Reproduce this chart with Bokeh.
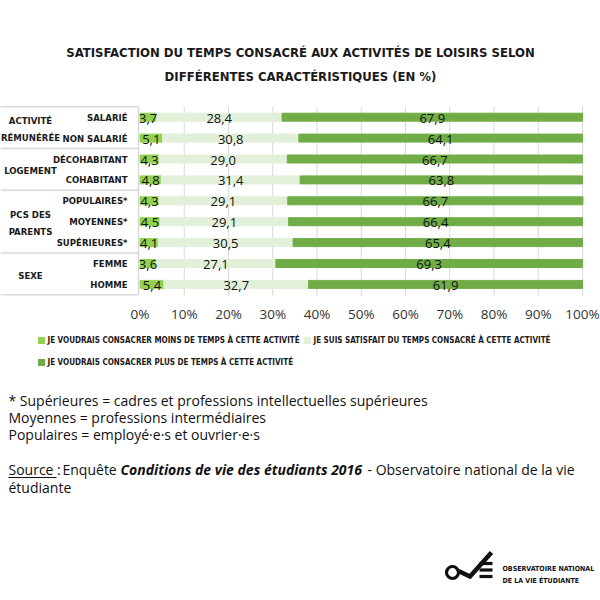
from bokeh.plotting import figure
from bokeh.models import Range1d
from bokeh.core.properties import value
from bokeh.embed import file_html
from bokeh.resources import INLINE

# ---------------- data ----------------
categories = ["SALARIÉ", "NON SALARIÉ", "DÉCOHABITANT", "COHABITANT",
              "POPULAIRES*", "MOYENNES*", "SUPÉRIEURES*", "FEMME", "HOMME"]
groups = ["ACTIVITÉ\nRÉMUNÉRÉE", "LOGEMENT", "PCS DES\nPARENTS", "SEXE"]
group_sizes = [2, 2, 3, 2]
moins = [3.7, 5.1, 4.3, 4.8, 4.3, 4.5, 4.1, 3.6, 5.4]
satisfait = [28.4, 30.8, 29.0, 31.4, 29.1, 29.1, 30.5, 27.1, 32.7]
plus = [67.9, 64.1, 66.7, 63.8, 66.7, 66.4, 65.4, 69.3, 61.9]
series_names = ["JE VOUDRAIS CONSACRER MOINS DE TEMPS À CETTE ACTIVITÉ",
                "JE SUIS SATISFAIT DU TEMPS CONSACRÉ À CETTE ACTIVITÉ",
                "JE VOUDRAIS CONSACRER PLUS DE TEMPS À CETTE ACTIVITÉ"]
series_colors = ["#92d050", "#e2efd9", "#70ad47"]
tick_values = [0, 10, 20, 30, 40, 50, 60, 70, 80, 90, 100]
tick_labels = ["0%", "10%", "20%", "30%", "40%", "50%", "60%", "70%", "80%", "90%", "100%"]
title_lines = ["SATISFACTION DU TEMPS CONSACRÉ AUX ACTIVITÉS DE LOISIRS SELON",
               "DIFFÉRENTES CARACTÉRISTIQUES (EN %)"]
notes = ["* Supérieures = cadres et professions intellectuelles supérieures",
         "Moyennes = professions intermédiaires",
         "Populaires = employé·e·s et ouvrier·e·s"]
source_parts = ["Source :", "Enquête", "Conditions de vie des étudiants 2016",
                "- Observatoire national de la vie", "étudiante"]
logo_lines = ["OBSERVATOIRE NATIONAL", "DE LA VIE ÉTUDIANTE"]

# ---------------- layout ----------------
W, H = 600, 600
X_ZERO, X_FULL = 139.5, 582.0
PX = (X_FULL - X_ZERO) / 100.0


def dx(page_x):
    return (page_x - X_ZERO) / PX


ROW0, STEP, BAR_H = 116.7, 20.9, 8
n = len(categories)
rows = [ROW0 + i * STEP for i in range(n)]

COND = value("DejaVu Sans Condensed")
BODY = value("Open Sans")
INK = "#1a1a1a"

p = figure(width=W, height=H, x_range=Range1d(dx(0), dx(W)),
           y_range=Range1d(H, 0), output_backend="svg",
           toolbar_location=None, min_border=0, outline_line_color=None,
           x_axis_location=None, y_axis_location=None)
p.grid.visible = False
p.background_fill_color = "white"
p.border_fill_color = "white"

# title
p.text(x=[dx(300)] * 2, y=[52, 76], text=title_lines, text_align="center",
       text_baseline="middle", text_font=COND, text_font_style="bold",
       text_font_size="13px", text_color=INK)

# grid lines
top = ROW0 - STEP / 2
bot = rows[-1] + STEP / 2
p.segment(x0=tick_values[1:], x1=tick_values[1:], y0=[top] * 10, y1=[bot + 1] * 10,
          line_color="#d9d9d9", line_width=1)

# stacked bars
s_left = moins
s_right = [a + b for a, b in zip(moins, satisfait)]
p_right = [a + b for a, b in zip(s_right, plus)]
p.hbar(y=rows, left=[0] * n, right=moins, height=BAR_H, color=series_colors[0])
p.hbar(y=rows, left=s_left, right=s_right, height=BAR_H, color=series_colors[1])
p.hbar(y=rows, left=s_right, right=p_right, height=BAR_H, color=series_colors[2])


def fmt(v):
    return f"{v:.1f}".replace(".", ",")


lx, ly, lt = [], [], []
for i in range(n):
    for a, b, v in ((0, moins[i], moins[i]), (s_left[i], s_right[i], satisfait[i]),
                    (s_right[i], p_right[i], plus[i])):
        lx.append((a + b) / 2)
        ly.append(rows[i] + 1)
        lt.append(fmt(v))
p.text(x=lx, y=ly, text=lt, text_align="center", text_baseline="middle",
       text_font=BODY, text_font_size="13px", text_color="#111111")

# group boxes
bounds = [top]
acc = 0
for g in group_sizes:
    acc += g
    bounds.append(ROW0 + (acc - 0.5) * STEP)
p.segment(x0=[dx(0)] * len(bounds), x1=[dx(138)] * len(bounds), y0=bounds, y1=bounds,
          line_color="#d9d9d9", line_width=1.5)
p.segment(x0=[dx(138)], x1=[dx(138)], y0=[top], y1=[bounds[-1]],
          line_color="#d9d9d9", line_width=1.5)

# category labels
p.text(x=[dx(127)] * n, y=rows, text=categories, text_align="right",
       text_baseline="middle", text_font=COND, text_font_style="bold",
       text_font_size="9.5px", text_color=INK)

# group labels
gy = []
acc = 0
for g in group_sizes:
    gy.append(ROW0 + (acc + (g - 1) / 2) * STEP + 1.5)
    acc += g
p.text(x=[dx(30)] * len(groups), y=gy, text=groups, text_align="center",
       text_baseline="middle", text_font=COND, text_font_style="bold",
       text_font_size="9.5px", text_color=INK, text_line_height=1.6)

# x tick labels
p.text(x=tick_values, y=[313] * len(tick_values), text=tick_labels, text_align="center",
       text_baseline="middle", text_font=BODY, text_font_size="13.5px", text_color="#333333")

# legend
leg_sq_x = [41, 307, 41]
leg_y = [340, 340, 362]
p.scatter(x=[dx(v) for v in leg_sq_x], y=leg_y, marker="square", size=7,
          color=series_colors, line_color=None)
p.text(x=[dx(v + 6) for v in leg_sq_x], y=leg_y, text=series_names, text_align="left",
       text_baseline="middle", text_font=COND, text_font_style="bold",
       text_font_size="8px", text_color=INK)

# footnotes
p.text(x=[dx(8)] * 3, y=[400, 417, 434], text=notes, text_align="left",
       text_baseline="middle", text_font=BODY, text_font_size="14px", text_color="#111111")
p.text(x=[dx(8), dx(62)], y=[469, 469], text=source_parts[:2], text_align="left",
       text_baseline="middle", text_font=BODY, text_font_size="14px", text_color="#111111")
p.segment(x0=[dx(8)], x1=[dx(56)], y0=[477], y1=[477], line_color="#111111", line_width=1)
p.text(x=[dx(120)], y=[469], text=[source_parts[2]], text_align="left",
       text_baseline="middle", text_font=BODY, text_font_style="bold italic",
       text_font_size="14px", text_color="#111111")
p.text(x=[dx(367), dx(8)], y=[469, 487], text=source_parts[3:], text_align="left",
       text_baseline="middle", text_font=BODY, text_font_size="14px", text_color="#111111")

# logo
p.scatter(x=[dx(452)], y=[572], marker="circle", size=12, fill_alpha=0,
          line_color="#111111", line_width=3.2)
p.line(x=[dx(458), dx(469.5), dx(491)], y=[570.5, 576, 552], line_color="#111111",
       line_width=4.5, line_join="miter")
p.segment(x0=[dx(479)] * 3, x1=[dx(492)] * 3, y0=[563, 569.5, 576], y1=[563, 569.5, 576],
          line_color="#111111", line_width=3.2)
p.text(x=[dx(502)] * 2, y=[568, 580], text=logo_lines, text_align="left",
       text_baseline="middle", text_font=COND, text_font_style="bold",
       text_font_size="7px", text_color="#111111")

open("out.html", "w").write(file_html(p, INLINE))
